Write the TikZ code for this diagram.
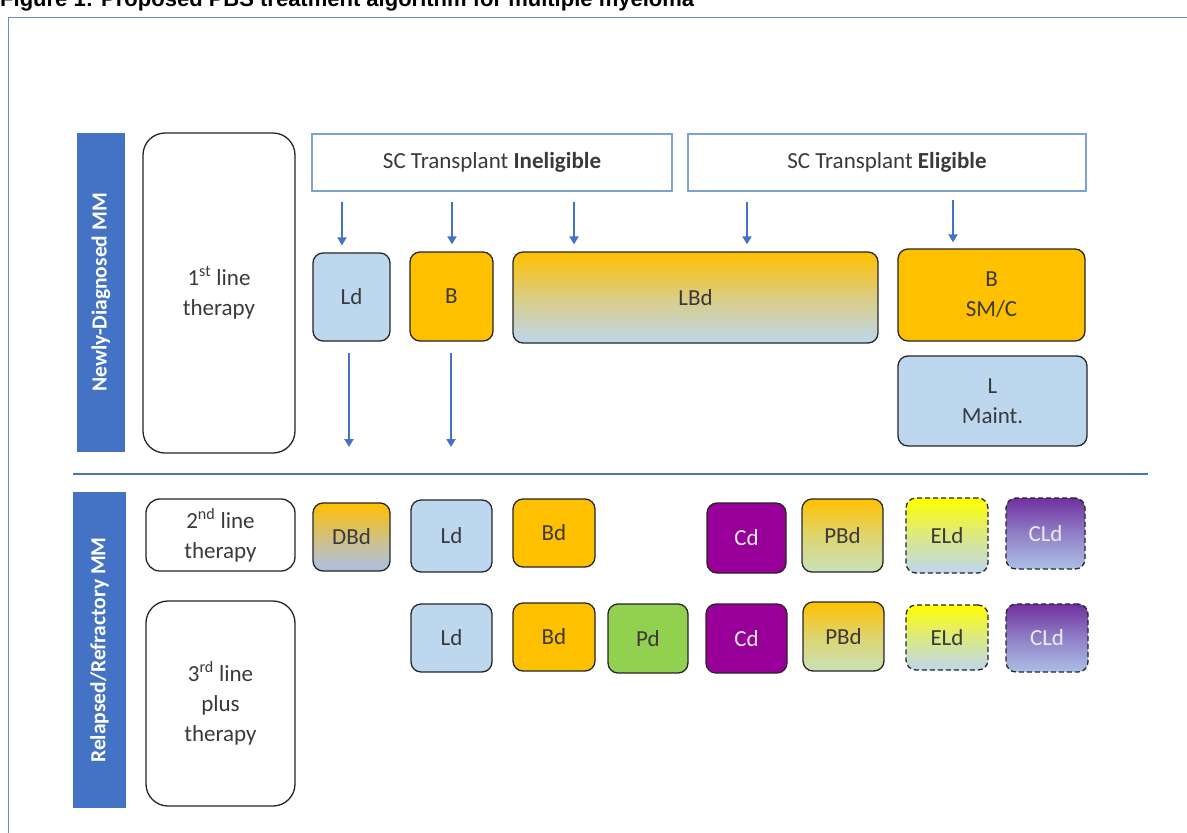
\documentclass[tikz,border=0pt]{standalone}
\usepackage{fontspec}
\setmainfont{Carlito}
\newfontfamily\titlefont{Liberation Sans}
\usetikzlibrary{arrows.meta}

\definecolor{barblue}{HTML}{4472C4}
\definecolor{headblue}{HTML}{7F9FD8}
\definecolor{ldblue}{HTML}{BDD7EE}
\definecolor{borange}{HTML}{FFC000}
\definecolor{cpurple}{HTML}{990099}
\definecolor{pgreen}{HTML}{92D050}
\definecolor{txtgray}{HTML}{3A3A3A}
\definecolor{lavblue}{HTML}{ABC0E6}
\definecolor{lgreen}{HTML}{C8E2B8}
\definecolor{clpurple}{HTML}{7030A0}

\begin{document}
\begin{tikzpicture}[x=1pt, y=-1pt,
    txt/.style={font=\fontsize{23}{30}\selectfont, text=txtgray, align=center, inner sep=0pt},
    box/.style={txt, draw=black!85, line width=1.3pt, rounded corners=10pt},
    linebox/.style={box, fill=white, rounded corners=22pt},
    head/.style={txt, draw=headblue, line width=1.5pt, fill=white},
    bar/.style={fill=barblue, text=white, inner sep=0pt, font=\fontsize{21.5}{21.5}\selectfont\bfseries},
    ldbox/.style={box, fill=ldblue},
    bbox/.style={box, fill=borange},
    cdbox/.style={box, fill=cpurple, text=white!92!black},
    pdbox/.style={box, fill=pgreen},
    mixbox/.style={box, top color=borange, bottom color=ldblue, middle color=borange!45!ldblue},
    pbdbox/.style={box, top color=borange, bottom color=lgreen, middle color=borange!40!lgreen},
    eldbox/.style={box, dash pattern=on 5pt off 3pt, top color=yellow, bottom color=ldblue, middle color=yellow!45!ldblue},
    cldbox/.style={box, dash pattern=on 5pt off 3pt, top color=clpurple, bottom color=lavblue, middle color=clpurple!45!lavblue, text=white!92!black},
    arr/.style={draw=barblue, line width=2pt, -{Triangle[width=9pt,length=8pt]}}
  ]
  \clip (0,0) rectangle (1187,833);
  \fill[white] (0,0) rectangle (1187,833);

  % title and frame, cut by the page edge
  \node[anchor=base west, inner sep=0pt, font=\titlefont\bfseries\fontsize{22}{22}\selectfont, text=black] (title) at (0,6) {Figure 1: Proposed PBS treatment algorithm for multiple myeloma};
  \draw[barblue!80, line width=1.5pt] (8.5,17.5) rectangle (1220,860);

  % side bars
  \node[bar, rotate=90, minimum width=319pt, minimum height=48pt] (nd) at (101,292.5) {Newly-Diagnosed MM};
  \node[bar, rotate=90, minimum width=316pt, minimum height=53pt] (rr) at (99.5,650) {Relapsed/Refractory MM};

  % line of therapy boxes
  \node[linebox, minimum width=152pt, minimum height=320pt] (first) at (219,293) {1\textsuperscript{st} line\\therapy};
  \node[linebox, rounded corners=14pt, minimum width=149pt, minimum height=72pt] (second) at (220.5,535) {2\textsuperscript{nd} line\\therapy};
  \node[linebox, minimum width=149pt, minimum height=205pt] (third) at (220.5,703.5) {3\textsuperscript{rd} line\\plus\\therapy};

  % transplant headers
  \node[head, minimum width=360pt, minimum height=57pt] (inel) at (492,162.5) {SC Transplant \textbf{Ineligible}};
  \node[head, minimum width=398pt, minimum height=57pt] (elig) at (887,162.5) {SC Transplant \textbf{Eligible}};

  % newly diagnosed regimens
  \node[ldbox, minimum width=77pt, minimum height=88pt] (ld1) at (351.5,297) {Ld};
  \node[bbox, minimum width=83pt, minimum height=89pt] (b1) at (451.5,296.5) {B};
  \node[mixbox, minimum width=365pt, minimum height=91pt] (lbd) at (695.5,297.5) {LBd};
  \node[bbox, minimum width=187pt, minimum height=92pt] (bsmc) at (991.5,295) {B\\SM/C};
  \node[ldbox, minimum width=189pt, minimum height=90pt] (lmaint) at (992.5,401) {L\\Maint.};

  % separator
  \draw[barblue, line width=1.5pt] (73,474) -- (1148,474);

  % 2nd line regimens
  \node[box, top color=borange, bottom color=lavblue, middle color=borange!45!lavblue, minimum width=77pt, minimum height=68pt] (dbd) at (351.5,537) {DBd};
  \node[ldbox, minimum width=81pt, minimum height=72pt] (ld2) at (451.5,536) {Ld};
  \node[bbox, minimum width=82pt, minimum height=68pt] (bd2) at (554,533) {Bd};
  \node[cdbox, minimum width=79pt, minimum height=70pt] (cd2) at (746.5,538) {Cd};
  \node[pbdbox, minimum width=81pt, minimum height=73pt] (pbd2) at (842.5,535.5) {PBd};
  \node[eldbox, minimum width=82pt, minimum height=75pt] (eld2) at (947,535.5) {ELd};
  \node[cldbox, minimum width=79pt, minimum height=71pt] (cld2) at (1045.5,533.5) {CLd};

  % 3rd line plus regimens
  \node[ldbox, minimum width=81pt, minimum height=68pt] (ld3) at (451.5,638) {Ld};
  \node[bbox, minimum width=82pt, minimum height=68pt] (bd3) at (554,637) {Bd};
  \node[pdbox, minimum width=80pt, minimum height=69pt] (pd3) at (648,638.5) {Pd};
  \node[cdbox, minimum width=81pt, minimum height=69pt] (cd3) at (746.5,638.5) {Cd};
  \node[pbdbox, minimum width=81pt, minimum height=69pt] (pbd3) at (843.5,636.5) {PBd};
  \node[eldbox, minimum width=82pt, minimum height=65pt] (eld3) at (947,637.5) {ELd};
  \node[cldbox, minimum width=82pt, minimum height=68pt] (cld3) at (1047,638) {CLd};

  % arrows from the headers
  \coordinate (a1) at (342,0);
  \coordinate (a2) at (452,0);
  \coordinate (a3) at (574,0);
  \coordinate (a4) at (747,0);
  \coordinate (a5) at (953,0);
  \draw[arr, shorten <=10pt, shorten >=7pt] (inel.south -| a1) -- (ld1.north -| a1);
  \draw[arr, shorten <=10pt, shorten >=7pt] (inel.south -| a2) -- (b1.north -| a2);
  \draw[arr, shorten <=10pt, shorten >=7pt] (inel.south -| a3) -- (lbd.north -| a3);
  \draw[arr, shorten <=10pt, shorten >=7pt] (elig.south -| a4) -- (lbd.north -| a4);
  \draw[arr, shorten <=8pt, shorten >=6pt] (elig.south -| a5) -- (bsmc.north -| a5);

  % arrows down to relapse
  \coordinate (e1) at (349,447);
  \coordinate (e2) at (451,447);
  \draw[arr, shorten <=11pt] (ld1.south -| e1) -- (e1);
  \draw[arr, shorten <=11pt] (b1.south -| e2) -- (e2);
\end{tikzpicture}
\end{document}
